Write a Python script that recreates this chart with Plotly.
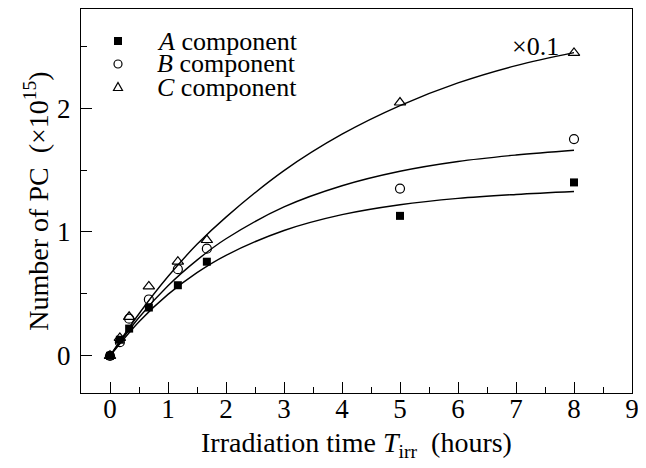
import plotly.graph_objects as go

# Measured points
t_hours = [0, 0.17, 0.33, 0.67, 1.17, 1.67, 5, 8]
a_values = [0, 0.13, 0.22, 0.39, 0.57, 0.76, 1.13, 1.40]
b_values = [0, 0.11, 0.30, 0.455, 0.70, 0.865, 1.35, 1.75]
c_values = [0, 0.145, 0.315, 0.56, 0.76, 0.935, 2.045, 2.445]

# Fitted curves
fit_t = [0, 0.5, 1, 1.5, 2, 3, 4, 5, 6, 7, 8]
fit_a = [0, 0.276, 0.496, 0.672, 0.812, 1.012, 1.140, 1.220, 1.271, 1.303, 1.327]
fit_b = [0, 0.310, 0.566, 0.773, 0.945, 1.202, 1.373, 1.490, 1.569, 1.621, 1.660]
fit_c = [0, 0.340, 0.640, 0.900, 1.120, 1.495, 1.789, 2.020, 2.203, 2.343, 2.448]

x_ticks = [0, 1, 2, 3, 4, 5, 6, 7, 8, 9]
y_ticks = [0, 1, 2]
legend_labels = ["<i>A</i> component", "<i>B</i> component", "<i>C</i> component"]

FONT = "Liberation Serif"

# The page body has an 8 px margin, so the figure is sized to fit the 646x468 window.
OFF = 8
W, H = 646 - OFF, 468 - OFF
L, R, T, B = 81 - OFF, 14, 9 - OFF, 75
PW, PH = W - L - R, H - T - B


def px(xp):
    # absolute window pixel -> paper x
    return (xp - OFF - L) / PW


def py(yp):
    # absolute window pixel -> paper y
    return 1 - (yp - OFF - T) / PH


fig = go.Figure()

for ys in (fit_a, fit_b, fit_c):
    fig.add_trace(go.Scatter(x=fit_t, y=ys, mode="lines",
                             line=dict(color="black", width=1.4, shape="spline"),
                             showlegend=False, hoverinfo="skip"))

fig.add_trace(go.Scatter(x=t_hours, y=a_values, mode="markers", name=legend_labels[0], showlegend=False,
                         marker=dict(symbol="square", size=8, color="black", line=dict(width=0))))
fig.add_trace(go.Scatter(x=t_hours, y=b_values, mode="markers", name=legend_labels[1], showlegend=False,
                         marker=dict(symbol="circle-open", size=9, color="black", line=dict(width=1.2))))
fig.add_trace(go.Scatter(x=t_hours, y=c_values, mode="markers", name=legend_labels[2], showlegend=False,
                         marker=dict(symbol="triangle-up-open", size=10, color="black", line=dict(width=1.2))))

# Legend (drawn manually for exact spacing)
row_y = [41, 64, 87]
sym_x = 118
fig.add_shape(type="rect", xref="paper", yref="paper", xsizemode="pixel", ysizemode="pixel",
              xanchor=px(sym_x), yanchor=py(row_y[0]), x0=-4, x1=4, y0=-4, y1=4,
              fillcolor="black", line=dict(width=0))
fig.add_shape(type="circle", xref="paper", yref="paper", xsizemode="pixel", ysizemode="pixel",
              xanchor=px(sym_x), yanchor=py(row_y[1]), x0=-4, x1=4, y0=-4, y1=4,
              line=dict(color="black", width=1.2))
fig.add_shape(type="path", xref="paper", yref="paper", xsizemode="pixel", ysizemode="pixel",
              xanchor=px(sym_x), yanchor=py(row_y[2]), path="M -4.5 -3.5 L 4.5 -3.5 L 0 4.5 Z",
              line=dict(color="black", width=1.2))
for lab, yy in zip(legend_labels, row_y):
    fig.add_annotation(x=px(155), y=py(yy), xref="paper", yref="paper", text=lab, showarrow=False,
                       xanchor="left", yanchor="middle", font=dict(family=FONT, size=26, color="black"))

fig.add_annotation(x=7.77, y=2.50, xref="x", yref="y", text="×0.1", showarrow=False,
                   xanchor="right", yanchor="middle", font=dict(family=FONT, size=26, color="black"))

axis_common = dict(showline=True, linecolor="black", linewidth=1.3, mirror=True,
                   ticks="inside", tickcolor="black", tickwidth=1.2, ticklen=11,
                   showgrid=False, zeroline=False, automargin=False,
                   tickfont=dict(family=FONT, size=27, color="black"))

fig.update_xaxes(range=[-0.5, 9], tickvals=x_ticks, ticktext=[str(v) for v in x_ticks],
                 minor=dict(ticks="inside", ticklen=6, tickwidth=1.2, tickcolor="black", dtick=0.5, tick0=0),
                 title=dict(text="Irradiation time <i>T</i><sub>irr</sub>\u00a0\u00a0(hours)",
                            font=dict(family=FONT, size=28, color="black"), standoff=9),
                 ticklabelstandoff=-9, **axis_common)
fig.update_yaxes(range=[-0.3, 2.8], tickvals=y_ticks, ticktext=[str(v) for v in y_ticks],
                 minor=dict(ticks="inside", ticklen=6, tickwidth=1.2, tickcolor="black", dtick=0.5, tick0=0),
                 title=dict(text="Number of PC\u00a0\u00a0(×10<sup>15</sup>)",
                            font=dict(family=FONT, size=28, color="black"), standoff=0),
                 ticklabelstandoff=4, **axis_common)

fig.update_layout(width=W, height=H, margin=dict(l=L, r=R, t=T, b=B),
                  plot_bgcolor="white", paper_bgcolor="white", showlegend=False,
                  font=dict(family=FONT, size=27, color="black"))

fig.write_html("out.html")
